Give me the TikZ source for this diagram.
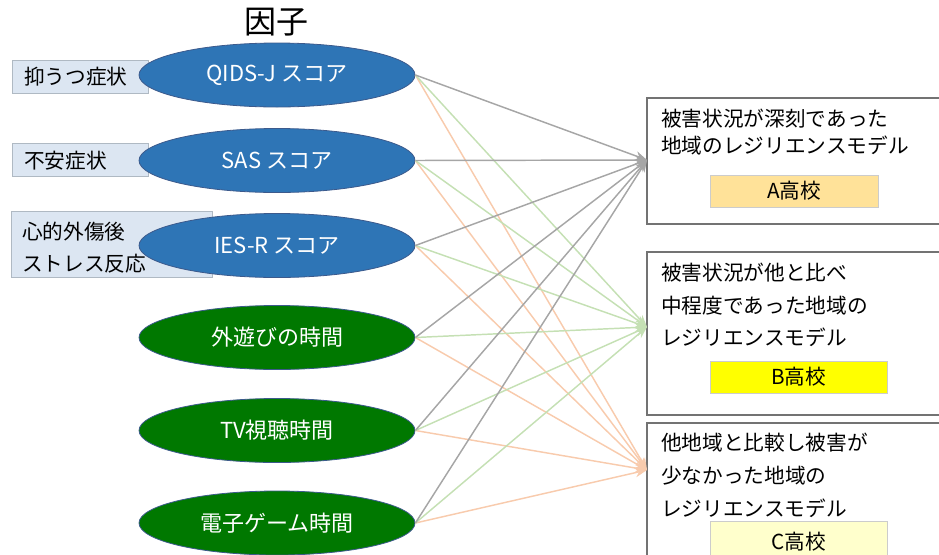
\documentclass[tikz,border=0pt]{standalone}
\usepackage{fontspec}
\setmainfont{Noto Sans CJK JP}
\usetikzlibrary{shapes.geometric,arrows.meta}

\definecolor{ellblue}{RGB}{46,117,182}
\definecolor{ellgreen}{RGB}{0,120,0}
\definecolor{ellline}{RGB}{60,90,140}
\definecolor{lblfill}{RGB}{220,230,242}
\definecolor{lblline}{RGB}{175,185,195}
\definecolor{arrgray}{RGB}{166,166,166}
\definecolor{arrgreen}{RGB}{197,224,180}
\definecolor{arrorange}{RGB}{248,203,173}
\definecolor{schA}{RGB}{255,226,153}
\definecolor{schB}{RGB}{255,255,0}
\definecolor{schC}{RGB}{255,255,204}

\tikzset{
  factor/.style={ellipse, draw=ellline, line width=0.6pt, inner sep=0pt,
    minimum width=207pt, minimum height=48pt, text=white,
    font=\fontsize{16.5pt}{19pt}\selectfont},
  symptom/.style={rectangle, draw=lblline, fill=lblfill, line width=0.75pt,
    inner sep=0pt},
  symptomtxt/.style={anchor=west, align=left, inner sep=0pt,
    font=\fontsize{15.5pt}{24pt}\selectfont},
  regionbox/.style={rectangle, draw=black!55, line width=1pt, fill=white,
    minimum width=234.75pt},
  desc/.style={anchor=west, align=left, inner sep=0pt,
    font=\fontsize{15.5pt}{24.5pt}\selectfont},
  school/.style={rectangle, draw=black!20, line width=0.5pt, inner sep=0pt,
    minimum height=24pt, font=\fontsize{15.5pt}{18pt}\selectfont},
  toA/.style={draw=arrgray, line width=1.1pt, -{Stealth[length=9pt,width=7pt]}},
  toB/.style={draw=arrgreen, line width=1.1pt, -{Stealth[length=9pt,width=7pt]}},
  toC/.style={draw=arrorange, line width=1.1pt, -{Stealth[length=9pt,width=7pt]}}
}

\begin{document}
\begin{tikzpicture}[x=0.75pt,y=0.75pt,yscale=-1,xscale=1]
\useasboundingbox (0,0) rectangle (939,554);

% Title
\node (title) at (276,22) {\fontsize{24pt}{26pt}\selectfont 因子};

% Symptom labels
\node[symptom, minimum width=102pt, minimum height=24.75pt] (lblDep) at (80,76.5) {};
\node[symptomtxt] (lblDepTxt) at (24,77) {抑うつ症状};
\node[symptom, minimum width=102pt, minimum height=24.75pt] (lblAnx) at (80,160) {};
\node[symptomtxt] (lblAnxTxt) at (24,161) {不安症状};
\node[symptom, minimum width=150.75pt, minimum height=49.5pt] (lblPtsd) at (111.5,244) {};
\node[symptomtxt] (lblPtsdTxt) at (22,248) {心的外傷後\\ストレス反応};

% Factor ellipses
\node[factor, fill=ellblue] (qids) at (277,75) {QIDS-J スコア};
\node[factor, fill=ellblue] (sas) at (277,160.5) {SAS スコア};
\node[factor, fill=ellblue] (iesr) at (277,245.5) {IES-R スコア};
\node[factor, fill=ellgreen] (play) at (277,337.5) {外遊びの時間};
\node[factor, fill=ellgreen] (tv) at (277,430.5) {TV視聴時間};
\node[factor, fill=ellgreen] (game) at (277,523) {電子ゲーム時間};

% Region boxes
\node[regionbox, minimum height=94.5pt] (boxA) at (803.5,161) {};
\node[regionbox, minimum height=122.25pt] (boxB) at (803.5,333.5) {};
\node[regionbox, minimum height=125.25pt] (boxC) at (803.5,506.5) {};

% Text Node
\node[desc, font=\fontsize{15.5pt}{20pt}\selectfont] (descA) at (661,132) {被害状況が深刻であった\\地域のレジリエンスモデル};
\node[desc] (descB) at (661,305) {被害状況が他と比べ\\中程度であった地域の\\レジリエンスモデル};
\node[desc] (descC) at (661,475.5) {他地域と比較し被害が\\少なかった地域の\\レジリエンスモデル};

% School labels
\node[school, fill=schA, minimum width=126pt] (schoolA) at (794,191) {A高校};
\node[school, fill=schB, minimum width=132.75pt] (schoolB) at (798.5,377) {B高校};
\node[school, fill=schC, minimum width=132.75pt, minimum height=30pt] (schoolC) at (798.5,541) {};
\node[inner sep=0pt, font=\fontsize{15.5pt}{18pt}\selectfont] (schoolCTxt) at (798.5,542) {C高校};

% Arrow ends
\coordinate (tipA) at (647,160);
\coordinate (tipB) at (647,327);
\coordinate (tipC) at (647,470);

%Straight Lines to C
\draw[toC] (qids.east) -- (tipC);
\draw[toC] (sas.east) -- (tipC);
\draw[toC] (iesr.east) -- (tipC);
\draw[toC] (play.east) -- (tipC);
\draw[toC] (tv.east) -- (tipC);
\draw[toC] (game.east) -- (tipC);

%Straight Lines to B
\draw[toB] (qids.east) -- (tipB);
\draw[toB] (sas.east) -- (tipB);
\draw[toB] (iesr.east) -- (tipB);
\draw[toB] (play.east) -- (tipB);
\draw[toB] (tv.east) -- (tipB);
\draw[toB] (game.east) -- (tipB);

%Straight Lines to A
\draw[toA] (qids.east) -- (tipA);
\draw[toA] (sas.east) -- (tipA);
\draw[toA] (iesr.east) -- (tipA);
\draw[toA] (play.east) -- (tipA);
\draw[toA] (tv.east) -- (tipA);
\draw[toA] (game.east) -- (tipA);

\end{tikzpicture}
\end{document}
